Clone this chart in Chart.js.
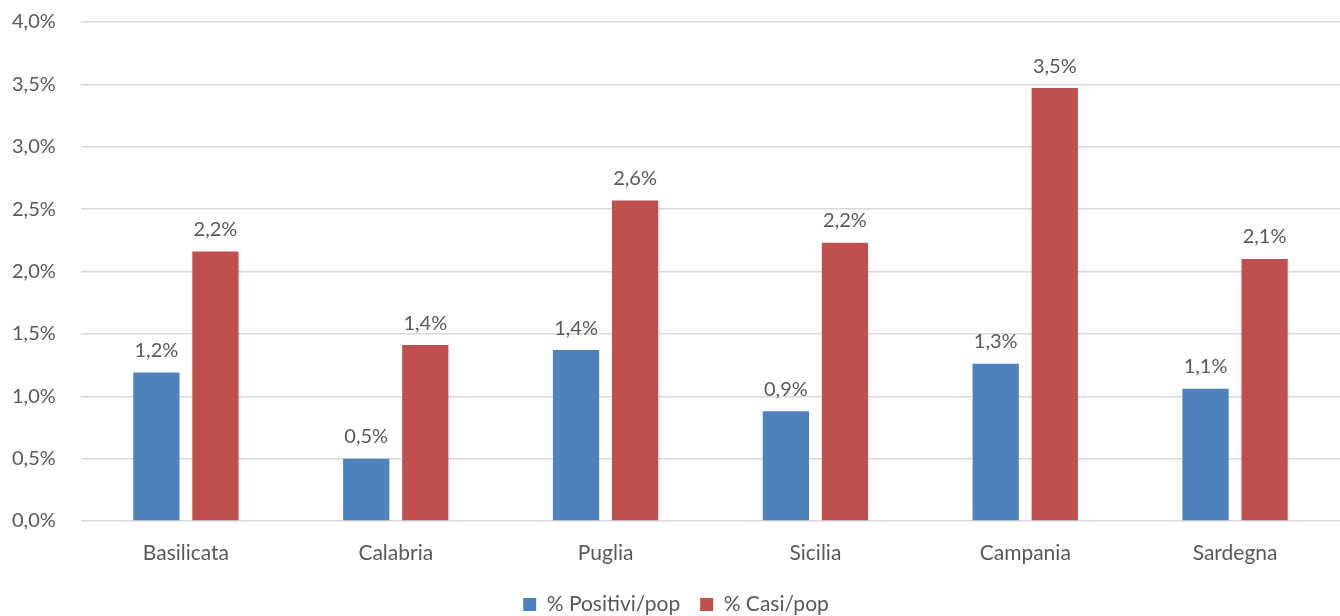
<!DOCTYPE html>
<html>
<head>
<meta charset="utf-8">
<script src="https://cdn.jsdelivr.net/npm/chart.js@4"></script>
<style>
  html, body { margin: 0; padding: 0; background: #fff; }
  #wrap { width: 1340px; height: 616px; }
</style>
</head>
<body>
<div id="wrap"><canvas id="myChart"></canvas></div>
<script>
const regions = ['Basilicata', 'Calabria', 'Puglia', 'Sicilia', 'Campania', 'Sardegna'];
const positiviPop = [1.19, 0.50, 1.37, 0.88, 1.26, 1.06];
const casiPop = [2.16, 1.41, 2.57, 2.23, 3.47, 2.10];
const seriesNames = ['% Positivi/pop', '% Casi/pop'];

const textColor = '#595959';
const gridColor = '#d9d9d9';
const fontFamily = 'Lato, "Open Sans", sans-serif';

const fmt = v => v.toFixed(1).replace('.', ',') + '%';

// draws the value above every bar (no datalabels plugin offline)
const barLabels = {
    id: 'barLabels',
    afterDatasetsDraw(chart) {
        const ctx = chart.ctx;
        ctx.save();
        ctx.fillStyle = textColor;
        ctx.font = '20px ' + fontFamily;
        ctx.textAlign = 'center';
        ctx.textBaseline = 'bottom';
        chart.data.datasets.forEach((ds, i) => {
            chart.getDatasetMeta(i).data.forEach((bar, j) => {
                ctx.fillText(fmt(ds.data[j]), bar.x, bar.y - 12);
            });
        });
        ctx.restore();
    }
};

new Chart(document.getElementById('myChart'), {
    type: 'bar',
    data: {
        labels: regions,
        datasets: [
            {
                label: seriesNames[0],
                data: positiviPop,
                backgroundColor: '#4f81bd',
                categoryPercentage: 0.563,
                barPercentage: 0.783
            },
            {
                label: seriesNames[1],
                data: casiPop,
                backgroundColor: '#c0504d',
                categoryPercentage: 0.563,
                barPercentage: 0.783
            }
        ]
    },
    options: {
        responsive: true,
        maintainAspectRatio: false,
        animation: false,
        layout: { padding: { top: 0, right: 0, left: 12, bottom: -9 } },
        plugins: {
            tooltip: { enabled: false },
            legend: {
                position: 'bottom',
                labels: {
                    color: textColor,
                    font: { family: fontFamily, size: 21 },
                    boxWidth: 13,
                    boxHeight: 13,
                    padding: 20
                }
            }
        },
        scales: {
            x: {
                grid: { display: false },
                border: { display: false },
                afterFit(scale) { scale.height = 53; },
                ticks: {
                    color: textColor,
                    font: { family: fontFamily, size: 21 },
                    padding: 12
                }
            },
            y: {
                min: 0,
                max: 4,
                afterFit(scale) { scale.width = 69; },
                grid: { color: gridColor, lineWidth: 1.5, drawTicks: false },
                border: { display: false },
                ticks: {
                    stepSize: 0.5,
                    color: textColor,
                    font: { family: fontFamily, size: 20 },
                    padding: 10,
                    crossAlign: 'far',
                    callback: v => fmt(v)
                }
            }
        }
    },
    plugins: [barLabels]
});
</script>
</body>
</html>
